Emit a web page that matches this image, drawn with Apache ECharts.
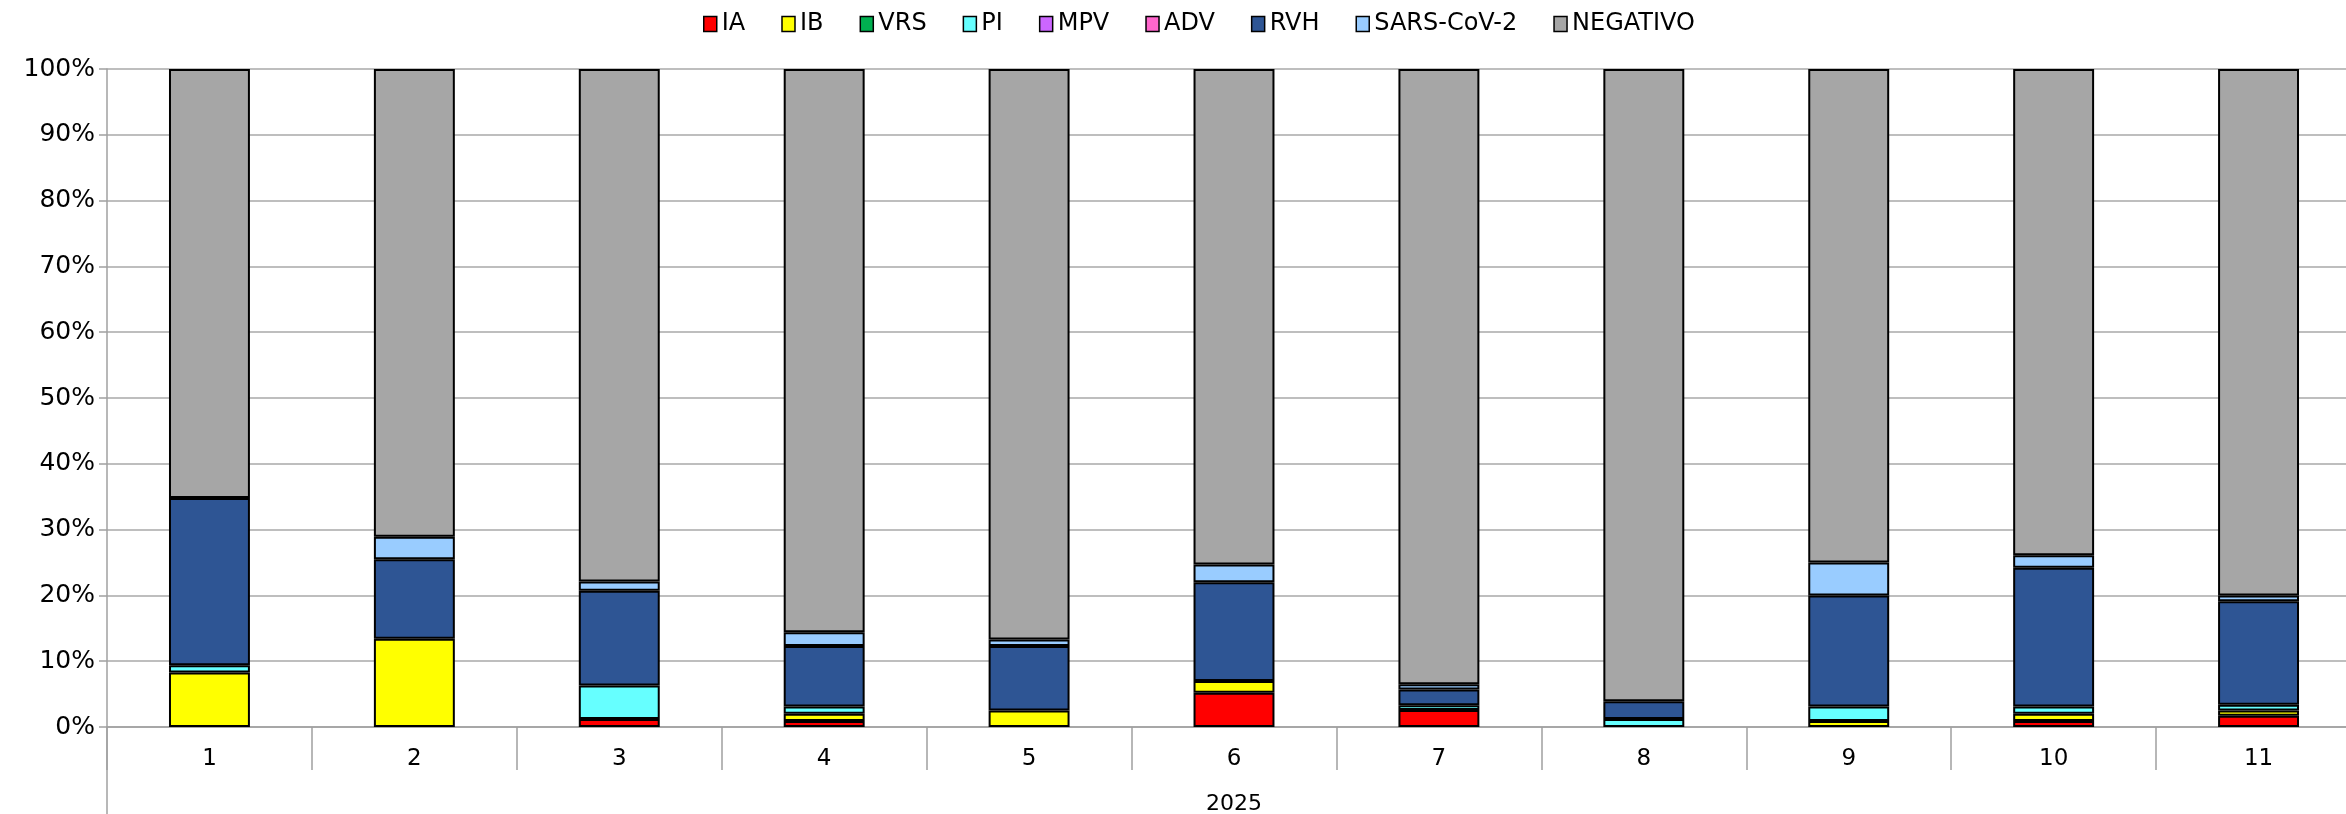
<!DOCTYPE html>
<html>
<head>
<meta charset="utf-8">
<title>Virus respiratorios 2025</title>
<script src="https://cdn.jsdelivr.net/npm/echarts@6/dist/echarts.min.js"></script>
<style>
  html, body { margin: 0; padding: 0; background: #ffffff; }
  #chart { width: 2346px; height: 814px; }
</style>
</head>
<body>
<div id="chart"></div>
<script>
// Months of 2025 (category axis)
const months = ['1', '2', '3', '4', '5', '6', '7', '8', '9', '10', '11'];
const yearLabel = '2025';

// Percentage of samples per result, per month
const IA       = [0,    0,    1.2,  0.9,  0,    5.2,  2.6,  0,    0,    0.9,  1.7];
const IB       = [8.3,  13.4, 0,    1.1,  2.5,  1.8,  0,    0,    0.9,  1.1,  0.8];
const VRS      = [0,    0,    0,    0,    0,    0,    0,    0,    0,    0,    0];
const PI       = [1.1,  0,    5.1,  1.1,  0,    0,    0.7,  1.2,  2.2,  1.1,  0.9];
const MPV      = [0,    0,    0,    0,    0,    0,    0,    0,    0,    0,    0];
const ADV      = [0,    0,    0,    0,    0,    0,    0,    0,    0,    0,    0];
const RVH      = [25.4, 12.1, 14.4, 9.2,  9.8,  15.0, 2.4,  2.7,  16.9, 21.1, 15.7];
const SARS     = [0,    3.4,  1.4,  2.1,  1.0,  2.7,  0.8,  0,    5.0,  1.9,  0.9];
const NEGATIVO = [65.2, 71.1, 77.9, 85.6, 86.7, 75.3, 93.5, 96.1, 75.0, 73.9, 80.0];

// Y axis ticks (percent)
const yTicks = [0, 10, 20, 30, 40, 50, 60, 70, 80, 90, 100];

const seriesDefs = [
  { name: 'IA',         data: IA,       color: '#FF0000' },
  { name: 'IB',         data: IB,       color: '#FFFF00' },
  { name: 'VRS',        data: VRS,      color: '#00B050' },
  { name: 'PI',         data: PI,       color: '#66FFFF' },
  { name: 'MPV',        data: MPV,      color: '#CC66FF' },
  { name: 'ADV',        data: ADV,      color: '#FF66CC' },
  { name: 'RVH',        data: RVH,      color: '#2E5594' },
  { name: 'SARS-CoV-2', data: SARS,     color: '#99CCFF' },
  { name: 'NEGATIVO',   data: NEGATIVO, color: '#A6A6A6' }
];

const FONT = 'DejaVu Sans';
const GRID = { left: 107, right: -15, top: 69, bottom: 87 };

const chart = echarts.init(document.getElementById('chart'), null, { renderer: 'canvas' });

const option = {
  backgroundColor: '#ffffff',
  animation: false,
  textStyle: { fontFamily: FONT, color: '#000000' },
  legend: {
    left: 698,
    top: 7,
    icon: 'rect',
    itemWidth: 13,
    itemHeight: 15,
    itemGap: 36,
    textStyle: { fontFamily: FONT, fontSize: 24, color: '#000000' },
    itemStyle: { borderColor: '#000000', borderWidth: 1.5 },
    data: seriesDefs.map(s => s.name)
  },
  grid: Object.assign({ containLabel: false, outerBoundsMode: 'none' }, GRID),
  xAxis: {
    type: 'category',
    data: months,
    name: yearLabel,
    nameLocation: 'middle',
    nameGap: 66,
    nameTextStyle: { fontFamily: FONT, fontSize: 22, color: '#000000' },
    axisLine: { show: true, lineStyle: { color: '#A0A0A0', width: 1.5 } },
    axisTick: { show: true, length: 43, lineStyle: { color: '#A0A0A0', width: 1.5 } },
    axisLabel: { fontFamily: FONT, fontSize: 23, color: '#000000', margin: 21 },
    splitLine: { show: false }
  },
  yAxis: {
    type: 'value',
    min: yTicks[0],
    max: yTicks[yTicks.length - 1],
    interval: yTicks[1] - yTicks[0],
    axisLine: { show: true, lineStyle: { color: '#A0A0A0', width: 1.5 } },
    axisTick: { show: true, inside: false, length: 8, lineStyle: { color: '#A0A0A0', width: 1.5 } },
    axisLabel: { fontFamily: FONT, fontSize: 25, color: '#000000', margin: 12, formatter: '{value}%' },
    splitLine: { show: true, lineStyle: { color: '#A8A8A8', width: 1.5 } }
  },
  series: seriesDefs.map(s => ({
    name: s.name,
    type: 'bar',
    stack: 'total',
    barWidth: '39.5%',
    // zero shares are left empty so they draw no outline
    data: s.data.map(v => (v === 0 ? null : v)),
    itemStyle: { color: s.color, borderColor: '#000000', borderWidth: 2 },
    emphasis: { disabled: true }
  }))
};

chart.setOption(option);

// The value axis line runs on down past the month labels to the year label
const base = chart.convertToPixel({ gridIndex: 0 }, [0, 0]);
const axisX = GRID.left;
chart.setOption({
  graphic: [{
    type: 'line',
    silent: true,
    shape: { x1: axisX, y1: base[1], x2: axisX, y2: 814 },
    style: { stroke: '#A0A0A0', lineWidth: 1.5 }
  }]
});
</script>
</body>
</html>
